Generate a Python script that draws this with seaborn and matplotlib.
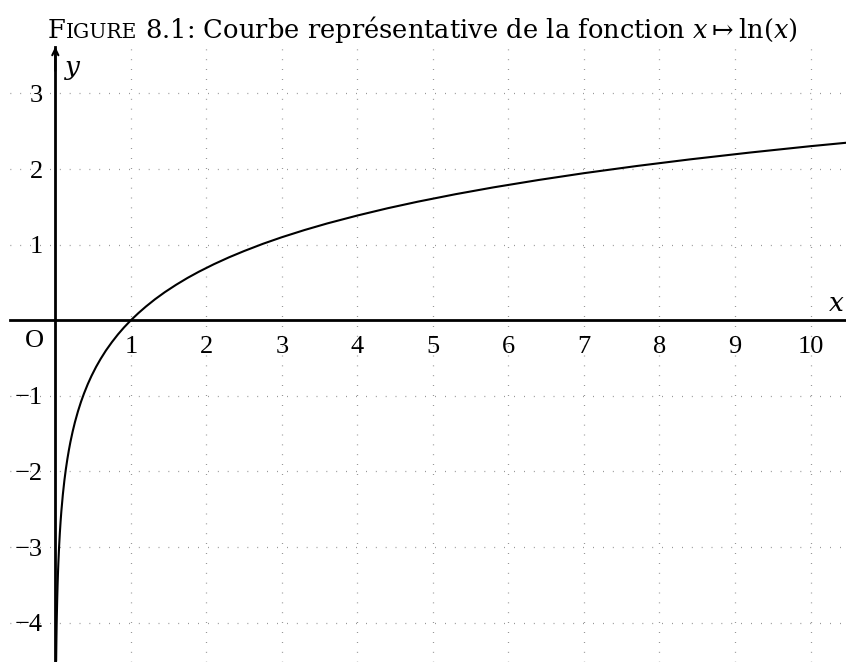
import matplotlib
matplotlib.use("Agg")
import matplotlib.pyplot as plt
import pandas as pd
import seaborn as sns

# points of the curve y = ln(x)
x_vals = [0.011, 0.013, 0.015, 0.018, 0.02, 0.025, 0.03, 0.035, 0.04, 0.05, 0.06, 0.07,
          0.08, 0.1, 0.12, 0.14, 0.16, 0.18, 0.2, 0.23, 0.26, 0.3, 0.34, 0.38, 0.43, 0.48,
          0.54, 0.6, 0.67, 0.75, 0.83, 0.91, 1.0, 1.1, 1.2, 1.32, 1.45, 1.6, 1.75, 1.9,
          2.1, 2.3, 2.5, 2.75, 3.0, 3.3, 3.6, 4.0, 4.4, 4.8, 5.3, 5.8, 6.4, 7.0, 7.7, 8.4,
          9.2, 10.0, 10.5]
y_vals = [-4.510, -4.343, -4.200, -4.017, -3.912, -3.689, -3.507, -3.352, -3.219, -2.996,
          -2.813, -2.659, -2.526, -2.303, -2.120, -1.966, -1.833, -1.715, -1.609, -1.470,
          -1.347, -1.204, -1.079, -0.968, -0.844, -0.734, -0.616, -0.511, -0.400, -0.288,
          -0.186, -0.094, 0.000, 0.095, 0.182, 0.278, 0.372, 0.470, 0.560, 0.642, 0.742,
          0.833, 0.916, 1.012, 1.099, 1.194, 1.281, 1.386, 1.482, 1.569, 1.668, 1.758,
          1.856, 1.946, 2.041, 2.128, 2.219, 2.303, 2.351]
x_ticks = [1, 2, 3, 4, 5, 6, 7, 8, 9, 10]
y_ticks = [-4, -3, -2, -1, 1, 2, 3]

df = pd.DataFrame({'x': x_vals, 'y': y_vals})

sns.set_style("white")
plt.rcParams['font.family'] = ['Liberation Serif', 'DejaVu Serif']
plt.rcParams['mathtext.fontset'] = 'dejavuserif'
plt.rcParams['text.color'] = 'black'
plt.rcParams['xtick.labelcolor'] = 'black'
plt.rcParams['ytick.labelcolor'] = 'black'

W, H = 846, 662
fig = plt.figure(figsize=(W / 100, H / 100), dpi=100)
ax = fig.add_axes([10 / W, 0, 836 / W, 615 / H])

sns.lineplot(data=df, x='x', y='y', ax=ax, color='black', linewidth=1.5,
             sort=False, estimator=None)

ax.set_xlim(-0.6, 10.47)
ax.set_ylim(-4.52, 3.615)
ax.set_xlabel('')
ax.set_ylabel('')

for side in ['top', 'right']:
    ax.spines[side].set_visible(False)
ax.spines['left'].set_position(('data', 0))
ax.spines['bottom'].set_position(('data', 0))
for side in ['left', 'bottom']:
    ax.spines[side].set_linewidth(2)
    ax.spines[side].set_color('black')

ax.set_xticks(x_ticks)
ax.set_yticks(y_ticks)
ax.tick_params(axis='both', direction='inout', length=16, width=1, color='#444444',
               labelsize=19, labelcolor='black')
ax.tick_params(axis='x', pad=3)
ax.tick_params(axis='y', pad=1)

ax.grid(True, color='#777777', linewidth=0.9, linestyle=(0, (0.6, 7.3)))
ax.set_axisbelow(True)

# arrow head on the y axis
ax.annotate('', xy=(0, 3.62), xytext=(0, 3.3),
            arrowprops=dict(arrowstyle='->,head_length=0.45,head_width=0.22', lw=1.5,
                            color='black', shrinkA=0, shrinkB=0),
            annotation_clip=False)
ax.annotate('$y$', xy=(0, 3.615), xytext=(6, -9), textcoords='offset points',
            ha='left', va='top', fontsize=19)
ax.annotate('$x$', xy=(10.47, 0), xytext=(-1, 3), textcoords='offset points',
            ha='right', va='bottom', fontsize=19)
ax.annotate('O', xy=(0, 0), xytext=(-8, -7), textcoords='offset points',
            ha='right', va='top', fontsize=19)

# title with small capitals for "Figure"
renderer = fig.canvas.get_renderer()
parts = [('F', 18.5), ('IGURE', 14.6),
         (' 8.1: Courbe représentative de la fonction $x \\mapsto \\ln(x)$', 18.5)]
xpos = 48
for txt, size in parts:
    t = fig.text(xpos / W, (H - 38) / H, txt, fontsize=size, ha='left', va='baseline',
                 family='DejaVu Serif')
    bb = t.get_window_extent(renderer)
    xpos = bb.x1

fig.savefig('out.png', dpi=100)
